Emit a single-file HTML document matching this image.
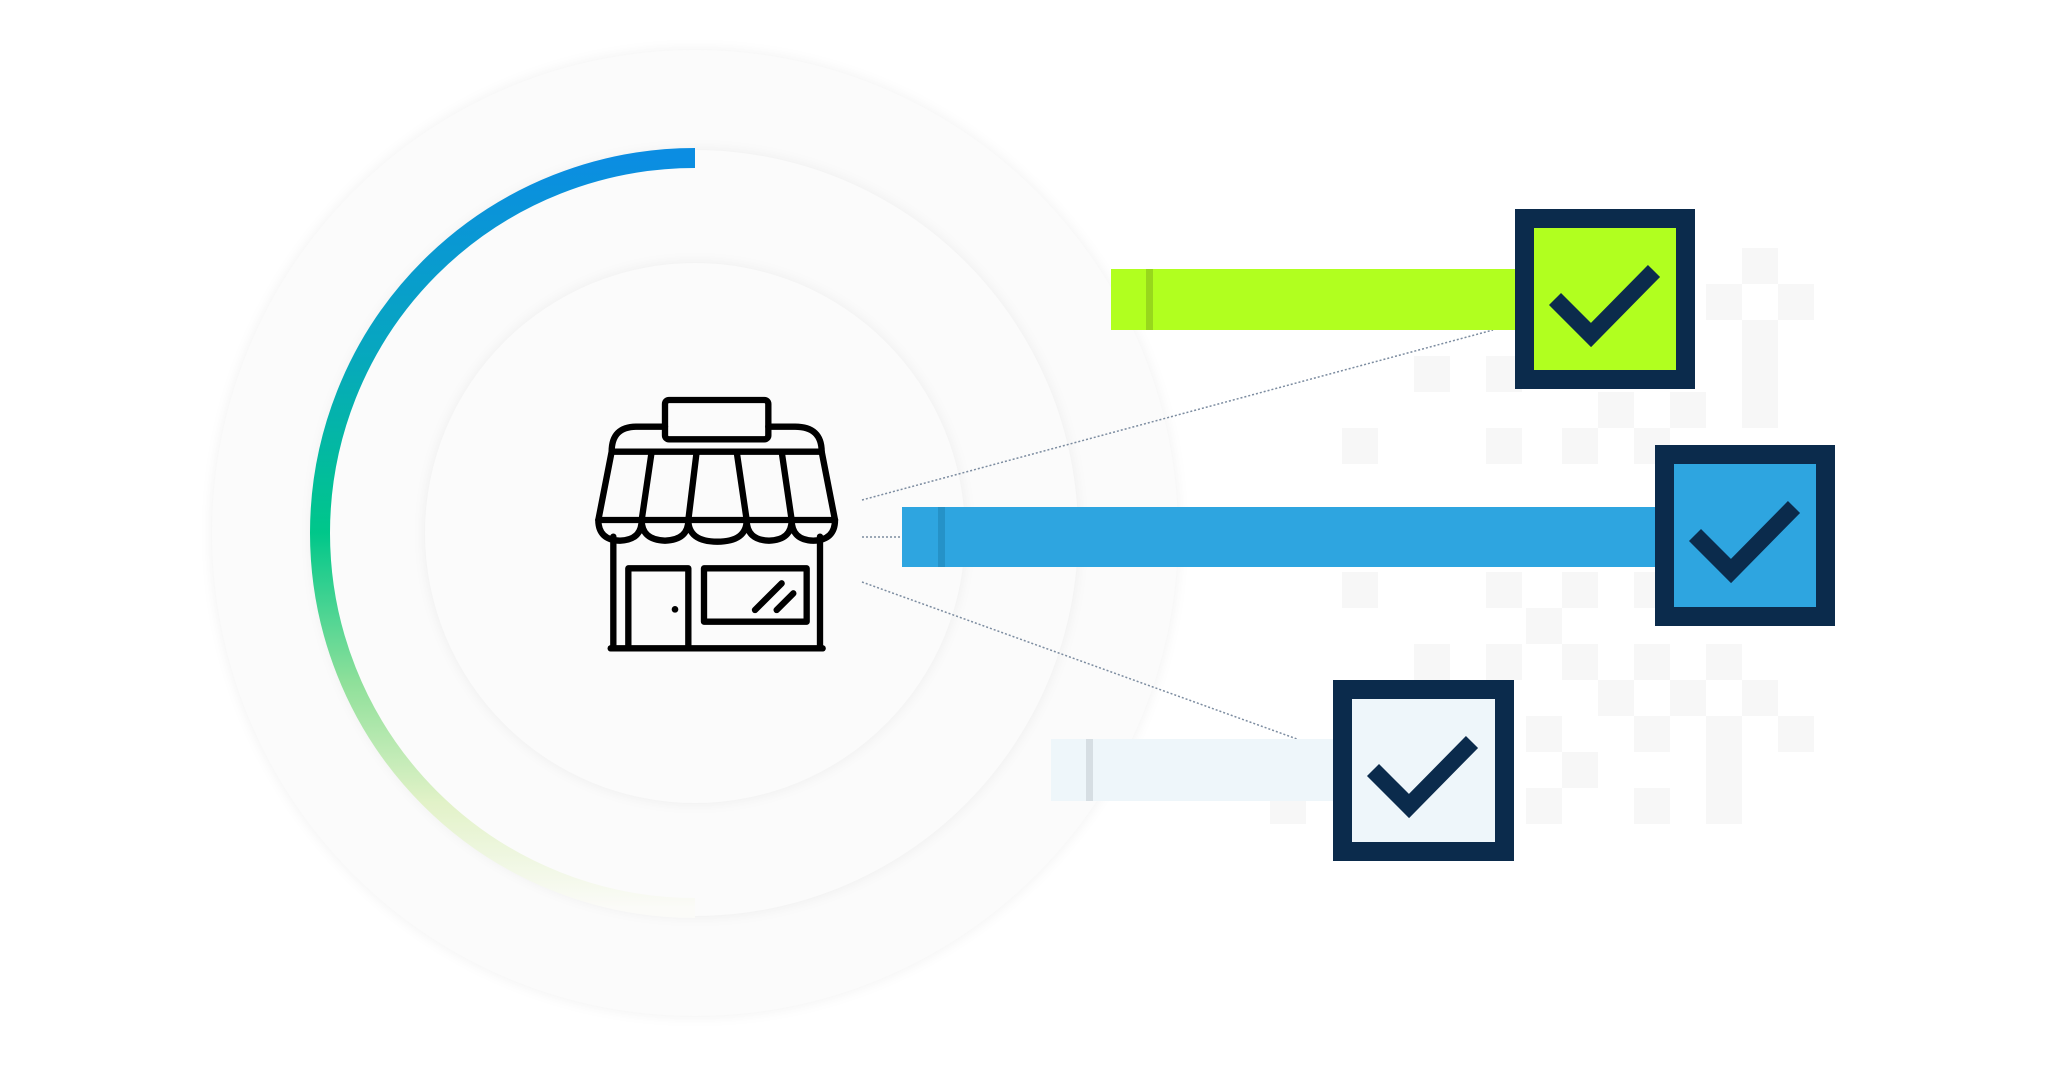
<!DOCTYPE html>
<html><head><meta charset="utf-8"><style>
html,body{margin:0;padding:0;background:#fff;width:2048px;height:1072px;overflow:hidden;position:relative;font-family:"Liberation Sans",sans-serif}
.c{position:absolute;border-radius:50%}
.a{position:absolute}
.box{position:absolute;background:#0b2b4c;box-sizing:border-box}
.box .in{position:absolute;left:19px;top:19px;right:19px;bottom:19px}
.box svg{position:absolute;left:0;top:0}
.sq{position:absolute;width:36px;height:36px;background:#f7f7f7}
</style></head><body>
<div class="sq" style="left:1742px;top:248px"></div>
<div class="sq" style="left:1778px;top:284px"></div>
<div class="sq" style="left:1706px;top:284px"></div>
<div class="sq" style="left:1742px;top:320px"></div>
<div class="sq" style="left:1414px;top:356px"></div>
<div class="sq" style="left:1486px;top:356px"></div>
<div class="sq" style="left:1742px;top:356px"></div>
<div class="sq" style="left:1598px;top:392px"></div>
<div class="sq" style="left:1670px;top:392px"></div>
<div class="sq" style="left:1742px;top:392px"></div>
<div class="sq" style="left:1342px;top:428px"></div>
<div class="sq" style="left:1486px;top:428px"></div>
<div class="sq" style="left:1562px;top:428px"></div>
<div class="sq" style="left:1634px;top:428px"></div>
<div class="sq" style="left:1342px;top:572px"></div>
<div class="sq" style="left:1486px;top:572px"></div>
<div class="sq" style="left:1562px;top:572px"></div>
<div class="sq" style="left:1634px;top:572px"></div>
<div class="sq" style="left:1526px;top:608px"></div>
<div class="sq" style="left:1414px;top:644px"></div>
<div class="sq" style="left:1486px;top:644px"></div>
<div class="sq" style="left:1562px;top:644px"></div>
<div class="sq" style="left:1634px;top:644px"></div>
<div class="sq" style="left:1706px;top:644px"></div>
<div class="sq" style="left:1598px;top:680px"></div>
<div class="sq" style="left:1670px;top:680px"></div>
<div class="sq" style="left:1742px;top:680px"></div>
<div class="sq" style="left:1526px;top:716px"></div>
<div class="sq" style="left:1634px;top:716px"></div>
<div class="sq" style="left:1706px;top:716px"></div>
<div class="sq" style="left:1778px;top:716px"></div>
<div class="sq" style="left:1562px;top:752px"></div>
<div class="sq" style="left:1706px;top:752px"></div>
<div class="sq" style="left:1270px;top:788px"></div>
<div class="sq" style="left:1526px;top:788px"></div>
<div class="sq" style="left:1634px;top:788px"></div>
<div class="sq" style="left:1706px;top:788px"></div>

<div class="c" style="left:212px;top:50px;width:966px;height:966px;background:#fbfbfb;box-shadow:0 0 14px rgba(0,0,0,0.06)"></div>
<div class="c" style="left:312px;top:150px;width:766px;height:766px;background:#fbfbfb;box-shadow:0 0 14px rgba(0,0,0,0.06)"></div>
<div class="c" style="left:425px;top:263px;width:540px;height:540px;background:#fbfbfb;box-shadow:0 0 14px rgba(0,0,0,0.06)"></div>

<svg class="a" style="left:0;top:0" width="2048" height="1072">
<defs>
<linearGradient id="g" x1="0" y1="158" x2="0" y2="908" gradientUnits="userSpaceOnUse">
<stop offset="0" stop-color="#0b8de2"/>
<stop offset="0.25" stop-color="#07a6c0"/>
<stop offset="0.5" stop-color="#00c78a"/>
<stop offset="0.7" stop-color="#8fe09a"/>
<stop offset="0.86" stop-color="#e2f2c8"/>
<stop offset="1" stop-color="#fbfbf8"/>
</linearGradient>
</defs>
<path d="M695,158 A375,375 0 0 0 695,908" fill="none" stroke="url(#g)" stroke-width="20"/>
<g stroke="#7c8ca0" stroke-width="1.5" stroke-dasharray="2,2" fill="none">
<line x1="862" y1="500" x2="1493" y2="330"/>
<line x1="862" y1="537" x2="901" y2="537"/>
<line x1="862" y1="582" x2="1297" y2="739"/>
</g>
</svg>

<div class="a" style="left:1111px;top:269px;width:410px;height:61px;background:#b1ff1f"></div>
<div class="a" style="left:1146px;top:269px;width:7px;height:61px;background:#98d81c"></div>
<div class="a" style="left:902px;top:507px;width:760px;height:60px;background:#2ea5e0"></div>
<div class="a" style="left:938px;top:507px;width:7px;height:60px;background:#2592c8"></div>
<div class="a" style="left:1051px;top:739px;width:290px;height:62px;background:#eef6fa"></div>
<div class="a" style="left:1086px;top:739px;width:7px;height:62px;background:#d6dee3"></div>

<div class="box" style="left:1515px;top:209px;width:180px;height:180px"><div class="in" style="background:#b1ff1f"></div>
<svg width="180" height="180"><polyline points="40,90 76,126 139,62" fill="none" stroke="#0b2b4c" stroke-width="17"/></svg></div>
<div class="box" style="left:1655px;top:445px;width:180px;height:181px"><div class="in" style="background:#2ea5e0"></div>
<svg width="180" height="180"><polyline points="40,90 76,126 139,62" fill="none" stroke="#0b2b4c" stroke-width="17"/></svg></div>
<div class="box" style="left:1333px;top:680px;width:181px;height:181px"><div class="in" style="background:#eef6fa"></div>
<svg width="180" height="180"><polyline points="40,90 76,126 139,62" fill="none" stroke="#0b2b4c" stroke-width="17"/></svg></div>

<svg class="a" style="left:580px;top:380px" width="300" height="280" viewBox="0 0 900 840">
<g fill="none" stroke="#000" stroke-width="19" stroke-linejoin="round" stroke-linecap="round">
<rect x="255" y="60" width="310" height="118" rx="12"/>
<path d="M255,140 L170,140 Q95,140 95,215 L725,215 Q725,140 645,140 L565,140"/>
<path d="M95,215 L55,420 L765,420 L725,215"/>
<line x1="215" y1="215" x2="185" y2="420"/>
<line x1="350" y1="215" x2="325" y2="420"/>
<line x1="470" y1="215" x2="500" y2="420"/>
<line x1="605" y1="215" x2="635" y2="420"/>
<path d="M55,420 Q55,480 120,482 Q185,480 185,420 Q185,480 255,482 Q325,480 325,420 Q325,485 412,485 Q500,485 500,420 Q500,480 567,482 Q635,480 635,420 Q635,480 700,482 Q765,480 765,420"/>
<line x1="100" y1="470" x2="100" y2="805"/>
<line x1="720" y1="470" x2="720" y2="805"/>
<line x1="92" y1="805" x2="728" y2="805"/>
<path d="M145,805 L145,565 L325,565 L325,805"/>
<rect x="372" y="565" width="308" height="160"/>
<line x1="525" y1="690" x2="605" y2="610"/>
<line x1="590" y1="690" x2="640" y2="640"/>
</g>
<circle cx="285" cy="688" r="10" fill="#000"/>
</svg>
</body></html>
